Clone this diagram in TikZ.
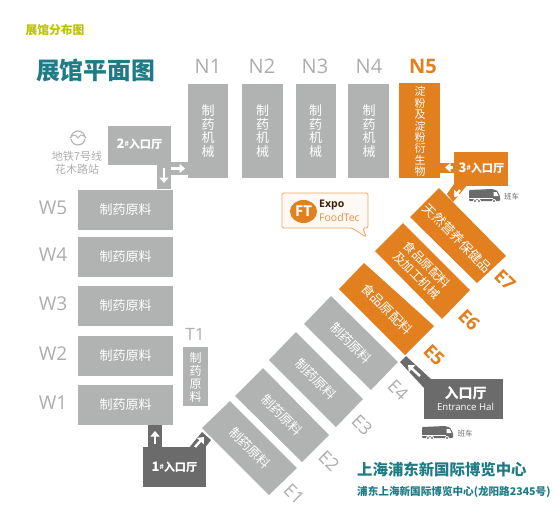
\documentclass[tikz,border=0pt]{standalone}
\usepackage{fontspec}
\setmainfont{Open Sans}
\newfontfamily\cjk{Noto Sans CJK SC}
\usetikzlibrary{arrows.meta}
\definecolor{hallgrey}{HTML}{B1B2B2}
\definecolor{labgrey}{HTML}{ADADAD}
\definecolor{darkhall}{HTML}{6B6B6C}
\definecolor{orng}{HTML}{E27F1E}
\definecolor{teal1}{HTML}{1F7C87}
\definecolor{olive1}{HTML}{B9C400}
\newcommand{\fs}[1]{\fontsize{#1}{#1}\selectfont}
\newcommand{\fsb}[2]{\fontsize{#1}{#2}\selectfont}
\tikzset{
  hall/.style={fill=hallgrey,draw=none},
  ohall/.style={fill=orng,draw=none},
  dhall/.style={fill=darkhall,draw=none},
  boxt/.style={text=white,font=\cjk\fs{13},inner sep=0pt,align=center},
  vert/.style={text=white,font=\cjk\fsb{13}{13.5},inner sep=0pt,align=center},
  vertsm/.style={text=white,font=\cjk\fsb{11}{11.35},inner sep=0pt,align=center},
  nlab/.style={text=labgrey,font=\fs{20},inner sep=0pt},
  wlab/.style={text=labgrey,font=\fs{19},inner sep=0pt},
  elab/.style={text=labgrey,font=\fs{18},inner sep=0pt,rotate=-45},
  oelab/.style={text=orng,font=\bfseries\fs{18.5},inner sep=0pt,rotate=-45},
  enth/.style={text=white,font=\cjk\bfseries\fs{11.2},inner sep=0pt},
  arrowmark/.style={draw=white,line width=2.4pt,-{Triangle[length=5.5pt,width=9pt]}},
}
\newcommand{\busicon}[2]{%
  \begin{scope}[shift={(#1,#2)}]
    \fill[darkhall,rounded corners=1pt] (0,1) -- (23,0) -- (28,1.5) -- (31,7) -- (31,12) -- (0,12) -- cycle;
    \fill[white] (24.5,3) -- (27.5,3) -- (29.5,7) -- (24.5,7) -- cycle;
    \fill[white] (0,8.5) rectangle (24,9.3);
    \foreach \xx in {6,10,25}{\fill[white] (\xx,12) circle (2); \fill[darkhall] (\xx,12) circle (1.2);}
  \end{scope}}
\begin{document}
\begin{tikzpicture}[x=1pt,y=-1pt]
\useasboundingbox (0,0) rectangle (557,523);
% titles
\node[text=olive1,font=\cjk\bfseries\fs{11.8},inner sep=0pt] (title1) at (55,30.5) {展馆分布图};
\node[text=teal1,font=\cjk\bfseries\fs{23.8},inner sep=0pt] (title2) at (95.5,70) {展馆平面图};
% connectors under halls
\fill[hall] (157,160) rectangle (171,189);
\fill[hall] (168,162) rectangle (190,175);
\fill[ohall] (438,163) rectangle (456,173);
\fill[ohall] (454,184) -- (468,184) -- (453,202) -- (447,194) -- cycle;
\fill[dhall] (148,423) rectangle (162,449);
\fill[dhall] (188,449) -- (202,432) -- (211,440) -- (204,449) -- cycle;
\fill[dhall] (400,362) -- (406,356) -- (432,380) -- (424,388) -- cycle;
% N halls
\fill[hall] (188,84) rectangle (228,178); \node[vert] (n1t) at (208,131) {制\\药\\机\\械};
\fill[hall] (242,84) rectangle (283,178); \node[vert] (n2t) at (262.5,131) {制\\药\\机\\械};
\fill[hall] (296,84) rectangle (336,178); \node[vert] (n3t) at (315.5,131) {制\\药\\机\\械};
\fill[hall] (348,84) rectangle (389,178); \node[vert] (n4t) at (369,131) {制\\药\\机\\械};
\fill[ohall] (399,83) rectangle (440,178); \node[vertsm] (n5t) at (420,131.5) {淀\\粉\\及\\淀\\粉\\衍\\生\\物};
\node[nlab] (n1) at (208,66) {N1};
\node[nlab] (n2) at (262,66) {N2};
\node[nlab] (n3) at (315,66) {N3};
\node[nlab] (n4) at (369,66) {N4};
\node[text=orng,font=\bfseries\fs{20},inner sep=0pt] (n5) at (423,66) {N5};
% W halls
\foreach \y/\nm in {190/5,237/4,286/3,336/2,385/1}{
  \fill[hall] (78,\y) rectangle (173,\y+40);
  \node[boxt] (w\nm t) at (125.5,\y+20) {制药原料};
  \node[wlab] (w\nm) at (53,\y+17.5) {W\nm};
}
% T1
\fill[hall] (183,347) rectangle (208,406);
\node[text=white,font=\cjk\fsb{12}{13},inner sep=0pt,align=center] (t1t) at (195.5,377) {制\\药\\原\\料};
\node[text=labgrey,font=\fs{17},inner sep=0pt] (t1) at (195,334) {T1};
% E halls
\fill[hall] (202,428) -- (230,401) -- (297,468) -- (269,495) -- cycle;
\node[boxt,rotate=-45] (e1t) at (250,448) {制药原料};
\fill[hall] (235,396) -- (263,368) -- (329,435) -- (302,462) -- cycle;
\node[boxt,rotate=-45] (e2t) at (282,415) {制药原料};
\fill[hall] (269,360) -- (296,332) -- (363,399) -- (336,427) -- cycle;
\node[boxt,rotate=-45] (e3t) at (316,379) {制药原料};
\fill[hall] (304,324) -- (331,296) -- (398,362) -- (371,390) -- cycle;
\node[boxt,rotate=-45] (e4t) at (351,343) {制药原料};
\fill[ohall] (339,289) -- (364,263) -- (434,326) -- (405,355) -- cycle;
\node[boxt,rotate=-45] (e5t) at (387,309) {食品原配料};
\fill[ohall] (375,251) -- (403,223) -- (470,290) -- (442,319) -- cycle;
\node[boxt,rotate=-45,font=\cjk\fsb{12}{15}] (e6t) at (422,270) {食品原配料\\及加工机械};
\fill[ohall] (410,217) -- (439,188) -- (506,256) -- (477,283) -- cycle;
\node[boxt,rotate=-45] (e7t) at (457.5,238) {天然营养保健品};
\node[oelab] (e7) at (505,280) {E7};
\node[oelab] (e6) at (469,320) {E6};
\node[oelab] (e5) at (434,355) {E5};
\node[elab] (e4) at (398,390) {E4};
\node[elab] (e3) at (362,425) {E3};
\node[elab] (e2) at (329,461) {E2};
\node[elab] (e1) at (294,494) {E1};
% entrance halls
\fill[hall] (108,126) rectangle (171,165);
\node[enth] (h2) at (139.5,144.5) {\fs{13}2\raisebox{2pt}{\fs{7}\#}\fs{11.2}入口厅};
\fill[ohall] (454,152) rectangle (508,186);
\node[enth] (h3) at (481.5,168) {\fs{13}3\raisebox{2pt}{\fs{7}\#}\fs{11.2}入口厅};
\fill[dhall] (143,447) rectangle (206,487);
\node[enth] (h1) at (174.5,467) {\fs{13}1\raisebox{2pt}{\fs{7}\#}\fs{11.2}入口厅};
\fill[dhall] (424,379) rectangle (503,419);
\node[text=white,font=\cjk\bfseries\fs{14},inner sep=0pt] (h0) at (465.5,393) {入口厅};
\node[text=white,font=\fs{9.6},inner sep=0pt] (h0e) at (465.5,407) {Entrance Hal};
% arrows
\coordinate (a1) at (164,168); \coordinate (a2) at (164,183);
\draw[arrowmark] (a1) -- (a2);
\coordinate (a3) at (171,168.5); \coordinate (a4) at (185,168.5);
\draw[arrowmark] (a3) -- (a4);
\coordinate (a5) at (453,167.5); \coordinate (a6) at (445,167.5);
\draw[arrowmark] (a5) -- (a6);
\coordinate (a7) at (460,190); \coordinate (a8) at (454,197);
\draw[arrowmark] (a7) -- (a8);
\coordinate (a9) at (155,444); \coordinate (a10) at (155,431);
\draw[arrowmark] (a9) -- (a10);
\coordinate (a11) at (195,447); \coordinate (a12) at (204,437);
\draw[arrowmark] (a11) -- (a12);
\coordinate (a13) at (420,376); \coordinate (a14) at (408,365);
\draw[arrowmark] (a13) -- (a14);
% buses
\busicon{469}{189}
\node[text=darkhall,font=\cjk\fs{7.5},inner sep=0pt] (b1) at (511.5,197) {班车};
\busicon{422}{426}
\node[text=darkhall,font=\cjk\fs{7.5},inner sep=0pt] (b2) at (465,434) {班车};
% metro
\draw[hallgrey,line width=1.1pt] (78,138) circle (7);
\fill[white] (69,136.5) rectangle (87,139);
\draw[hallgrey,line width=1pt] (70,138) .. controls (74,134) and (75,134) .. (78,138) .. controls (81,134) and (82,134) .. (86,138);
\node[text=labgrey,font=\cjk\fs{11},inner sep=0pt] (m1) at (77,156) {地铁7号线};
\node[text=labgrey,font=\cjk\fs{11},inner sep=0pt] (m2) at (77,169) {花木路站};
% callout
\draw[orng!70,line width=.8pt,fill=orng!5,rounded corners=1.5pt] (282,193) -- (368,193) -- (368,228) -- (363,228) -- (366,237) -- (352,228) -- (282,228) -- cycle;
\fill[orng] (303.5,211.5) ellipse (13.5 and 11.5);
\node[text=white,font=\bfseries\fs{15},inner sep=0pt] (ft) at (303.5,211.5) {FT};
\node[text=black!75!orng,font=\bfseries\fs{10.5},inner sep=0pt,anchor=west] (expo) at (319,205.5) {Expo};
\node[text=orng!85,font=\fs{10.5},inner sep=0pt,anchor=west] (food) at (319,218) {FoodTec};
% bottom text
\node[text=teal1,font=\cjk\bfseries\fs{15.4},inner sep=0pt,anchor=west] (c1) at (357,469.5) {上海浦东新国际博览中心};
\node[text=teal1,font=\cjk\bfseries\fs{10.6},inner sep=0pt,anchor=west] (c2) at (357,492) {浦东上海新国际博览中心(龙阳路2345号)};
\end{tikzpicture}
\end{document}
